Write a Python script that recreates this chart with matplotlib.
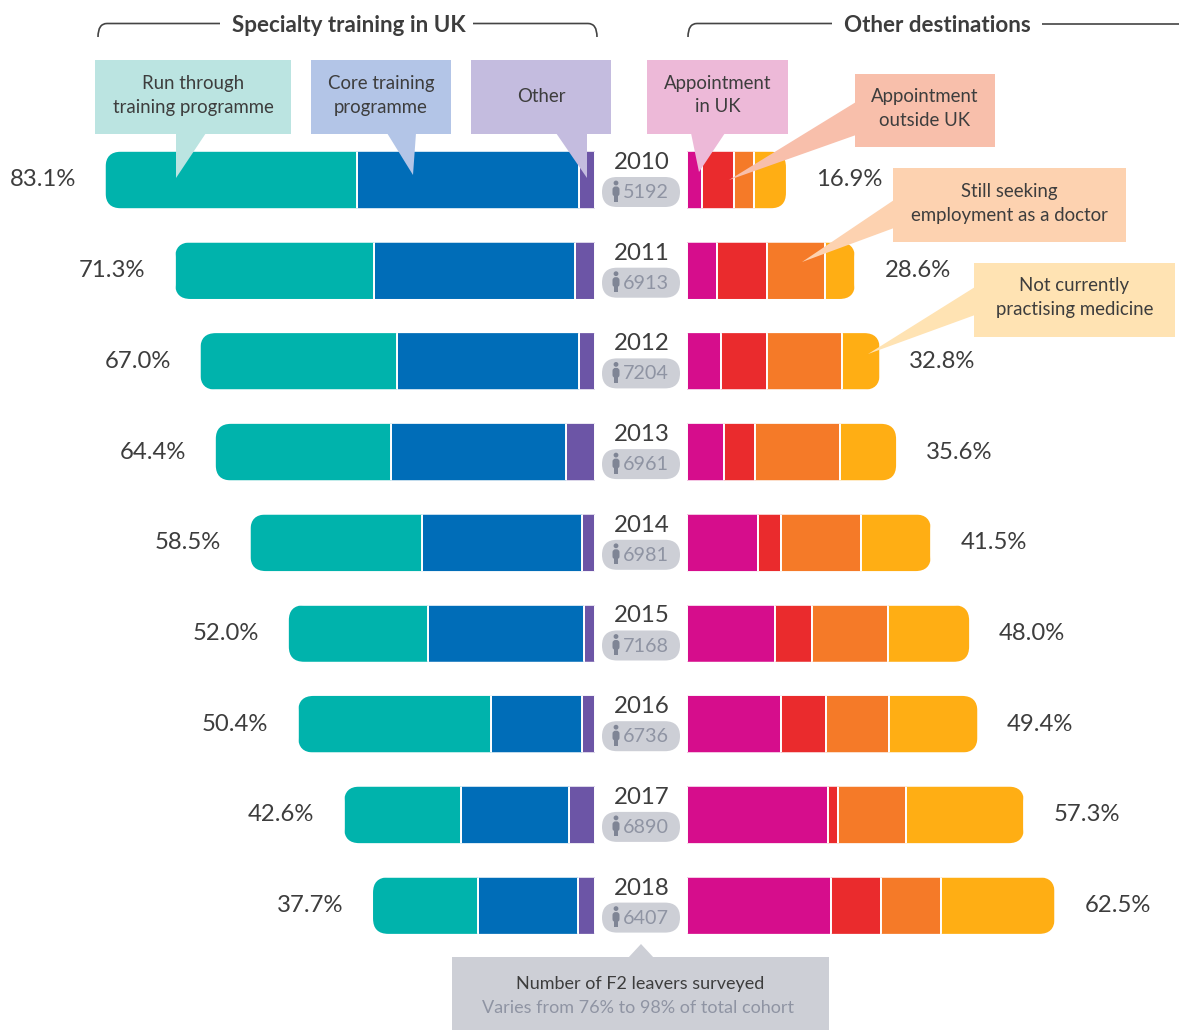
import matplotlib

matplotlib.use("Agg")
import matplotlib.pyplot as plt
from matplotlib.patches import Circle, FancyBboxPatch, PathPatch, Polygon, Rectangle
from matplotlib.path import Path

plt.rcParams["font.family"] = ["Lato", "DejaVu Sans"]

years = [2010, 2011, 2012, 2013, 2014, 2015, 2016, 2017, 2018]
surveyed = [5192, 6913, 7204, 6961, 6981, 7168, 6736, 6890, 6407]

run_through = [42.8, 33.8, 33.4, 29.9, 29.2, 23.7, 32.8, 20.0, 18.0]
core = [37.6, 34.2, 30.9, 29.7, 27.2, 26.5, 15.5, 18.2, 16.9]
other = [2.7, 3.3, 2.7, 4.8, 2.1, 1.8, 2.1, 4.4, 2.8]
specialty_total = [83.1, 71.3, 67.0, 64.4, 58.5, 52.0, 50.4, 42.6, 37.7]

appt_uk = [2.6, 5.1, 5.8, 6.3, 12.0, 15.0, 15.9, 23.9, 24.4]
appt_outside = [5.4, 8.4, 7.7, 5.2, 4.0, 6.2, 7.7, 1.8, 8.6]
still_seeking = [3.3, 10.0, 12.9, 14.4, 13.6, 13.0, 10.7, 11.4, 10.2]
not_practising = [5.6, 5.1, 6.4, 9.7, 11.9, 13.8, 15.1, 20.2, 19.3]
other_total = [16.9, 28.6, 32.8, 35.6, 41.5, 48.0, 49.4, 57.3, 62.5]

W, H = 1179, 1030
PX_PER_PCT = 5.89
ROW_TOP, ROW_STEP, BAR_PX = 180, 90.7, 58
DARK, GREY = "#3d3d3d", "#8f94a3"
PILL = "#cdcfd6"

fig = plt.figure(figsize=(W / 100, H / 100), dpi=100, facecolor="white")


def make_axes(left_px, span_pct, xlim):
    ax = fig.add_axes([left_px / W, 0, span_pct * PX_PER_PCT / W, 1])
    ax.set_xlim(*xlim)
    ax.set_ylim((H - ROW_TOP) / ROW_STEP, -ROW_TOP / ROW_STEP)
    ax.axis("off")
    return ax


ax_l = make_axes(594.5 - 90 * PX_PER_PCT, 90, (90, 0))
ax_r = make_axes(687, 80, (0, 80))
overlay = fig.add_axes([0, 0, 1, 1], zorder=5)
overlay.set_xlim(0, W)
overlay.set_ylim(H, 0)
overlay.axis("off")
overlay.patch.set_alpha(0)


def stacked(ax, series, colors, totals):
    height = BAR_PX / ROW_STEP
    aspect = PX_PER_PCT / ROW_STEP
    for i in range(len(years)):
        # rounded outer end only: the clip box runs past the inner edge
        clip = FancyBboxPatch(
            (-5, i - height / 2 + 0.008), totals[i] + 5 - 0.1, height - 0.016,
            boxstyle="round,pad=0,rounding_size=2.6", mutation_aspect=aspect,
            transform=ax.transData,
        )
        start = 0
        for vals, col in zip(series, colors):
            bar = ax.barh(i, vals[i], left=start, height=height, color=col,
                          edgecolor="white", linewidth=1.4)[0]
            bar.set_clip_path(clip)
            start += vals[i]


stacked(ax_l, [other, core, run_through], ["#6c55a6", "#006db8", "#00b3ac"], specialty_total)
stacked(ax_r, [appt_uk, appt_outside, still_seeking, not_practising],
        ["#d60d8c", "#ea2b2d", "#f57a28", "#ffae14"], other_total)

for i in range(len(years)):
    ax_l.annotate(f"{specialty_total[i]:.1f}%", (specialty_total[i], i), xytext=(-21, 0),
                  textcoords="offset points", ha="right", va="center", fontsize=17.2, color=DARK)
    ax_r.annotate(f"{other_total[i]:.1f}%", (other_total[i], i), xytext=(21, 0),
                  textcoords="offset points", ha="left", va="center", fontsize=17.2, color=DARK)

    y = ROW_TOP + ROW_STEP * i
    overlay.text(641.5, y - 17.5, str(years[i]), ha="center", va="center", fontsize=17.3, color=DARK)
    overlay.add_patch(FancyBboxPatch((602, y - 3), 78, 30, boxstyle="round,pad=0,rounding_size=15",
                                     fc=PILL, ec="none"))
    overlay.text(645.5, y + 12.5, str(surveyed[i]), ha="center", va="center", fontsize=14.2, color=GREY)
    # little person icon
    overlay.add_patch(Circle((616, y + 3), 2.4, fc="#7f8595", ec="none"))
    overlay.add_patch(FancyBboxPatch((612.5, y + 6.5), 7, 10, boxstyle="round,pad=0,rounding_size=3",
                                     fc="#7f8595", ec="none"))
    overlay.add_patch(Rectangle((614, y + 14), 4, 7.5, fc="#7f8595", ec="none"))


def bracket(x0, x1, gap0, gap1):
    pieces = [
        ([(x0, 37), (x0, 23.5), (x0 + 9, 23.5), (gap0, 23.5)],
         [Path.MOVETO, Path.CURVE3, Path.CURVE3, Path.LINETO]),
    ]
    if x1 > 1170:
        pieces.append(([(gap1, 23.5), (x1, 23.5)], [Path.MOVETO, Path.LINETO]))
    else:
        pieces.append(([(gap1, 23.5), (x1 - 9, 23.5), (x1, 23.5), (x1, 37)],
                       [Path.MOVETO, Path.LINETO, Path.CURVE3, Path.CURVE3]))
    for verts, codes in pieces:
        overlay.add_patch(PathPatch(Path(verts, codes), fc="none", ec="#444444", lw=1.2))


bracket(98, 597, 220, 473)
bracket(688, 1179, 832, 1042)
overlay.text(348.5, 25, "Specialty training in UK", ha="center", va="center", fontsize=16.1,
             fontweight="bold", color=DARK)
overlay.text(937, 25, "Other destinations", ha="center", va="center", fontsize=16.1,
             fontweight="bold", color=DARK)


def callout(box, pointer, color, text):
    x0, y0, x1, y1 = box
    overlay.add_patch(Polygon(pointer, closed=True, fc=color, ec="none"))
    overlay.add_patch(Rectangle((x0, y0), x1 - x0, y1 - y0, fc=color, ec="none"))
    shift = -2 if "\n" in text else 0
    overlay.text((x0 + x1) / 2, (y0 + y1) / 2 + shift, text, ha="center", va="center", fontsize=13.4,
                 color=DARK, linespacing=1.5)


callout((95, 60, 291, 134), [(176, 133), (206, 133), (176, 178)], "#bbe4e1",
        "Run through\ntraining programme")
callout((311, 60, 451, 134), [(387, 133), (416, 133), (413, 175)], "#b3c5e7",
        "Core training\nprogramme")
callout((471, 60, 611, 134), [(556, 133), (587, 133), (587, 178)], "#c4bcdf", "Other")
callout((647, 60, 788, 134), [(691, 133), (725, 133), (699, 172)], "#edb9d8",
        "Appointment\nin UK")
callout((855, 74, 995, 147), [(856, 102), (856, 135), (729, 180)], "#f8bfab",
        "Appointment\noutside UK")
callout((893, 168, 1126, 242), [(894, 200), (894, 228), (802, 262)], "#fdd2b0",
        "Still seeking\nemployment as a doctor")
callout((974, 263, 1175, 337), [(975, 287), (975, 315), (868, 354)], "#ffe3b3",
        "Not currently\npractising medicine")

overlay.add_patch(Polygon([(628, 958), (654, 958), (641, 944)], closed=True, fc=PILL, ec="none"))
overlay.add_patch(Rectangle((452, 957), 377, 73, fc=PILL, ec="none"))
overlay.text(640, 984, "Number of F2 leavers surveyed", ha="center", va="center", fontsize=13, color=DARK)
overlay.text(638, 1008, "Varies from 76% to 98% of total cohort", ha="center", va="center",
             fontsize=13, color=GREY)

fig.savefig("out.png", dpi=100)
